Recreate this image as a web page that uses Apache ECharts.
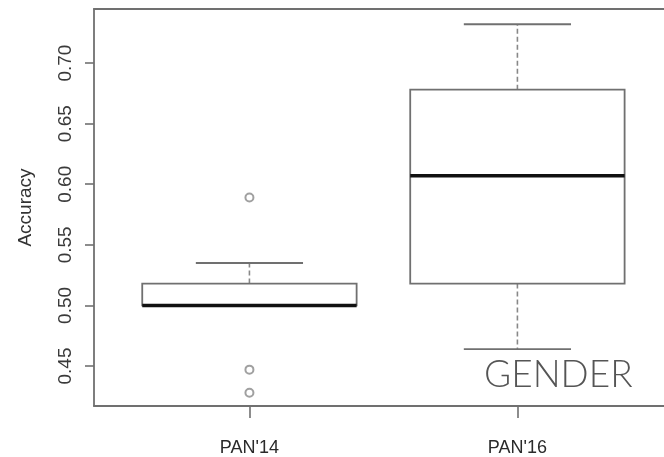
<!DOCTYPE html>
<html>
<head>
<meta charset="utf-8">
<script src="https://cdn.jsdelivr.net/npm/echarts@6/dist/echarts.min.js"></script>
<style>
  html, body { margin: 0; padding: 0; background: #fff; }
  #chart { width: 664px; height: 457px; }
</style>
</head>
<body>
<div id="chart"></div>
<script>
// ---- data ----
var categories = ["PAN'14", "PAN'16"];
var categoryPositions = [1, 2];
// [lower whisker, Q1, median, Q3, upper whisker]
var boxPAN14 = [0.500, 0.500, 0.500, 0.518, 0.535];
var boxPAN16 = [0.464, 0.518, 0.607, 0.678, 0.732];
var outliersPAN14 = [0.589, 0.447, 0.428];
var outliersPAN16 = [];
var yTickValues = [0.45, 0.50, 0.55, 0.60, 0.65, 0.70];
var annotationText = 'GENDER';

var boxes = [boxPAN14, boxPAN16];
var outlierSets = [outliersPAN14, outliersPAN16];

var boxData = boxes.map(function (b, i) {
  return [categoryPositions[i]].concat(b);
});
var outlierData = [];
outlierSets.forEach(function (set, i) {
  set.forEach(function (v) { outlierData.push([categoryPositions[i], v]); });
});

var lineGray = '#707070';
var BOX_WIDTH = 0.8;

function renderBox(params, api) {
  var x = api.value(0);
  var low = api.value(1), q1 = api.value(2), med = api.value(3), q3 = api.value(4), high = api.value(5);
  var w = api.size([BOX_WIDTH, 0])[0];
  var c = api.coord([x, med]);
  var pLow = api.coord([x, low]);
  var pQ1 = api.coord([x, q1]);
  var pQ3 = api.coord([x, q3]);
  var pHigh = api.coord([x, high]);
  var cx = c[0];
  var children = [];
  var dashStyle = { stroke: '#888', lineWidth: 1.6, lineDash: [5, 3] };
  var solid = { stroke: lineGray, lineWidth: 1.8 };
  if (high > q3) {
    children.push({ type: 'line', shape: { x1: cx, y1: pQ3[1], x2: cx, y2: pHigh[1] }, style: dashStyle });
  }
  children.push({ type: 'line', shape: { x1: cx - w / 4, y1: pHigh[1], x2: cx + w / 4, y2: pHigh[1] }, style: solid });
  if (low < q1) {
    children.push({ type: 'line', shape: { x1: cx, y1: pQ1[1], x2: cx, y2: pLow[1] }, style: dashStyle });
    children.push({ type: 'line', shape: { x1: cx - w / 4, y1: pLow[1], x2: cx + w / 4, y2: pLow[1] }, style: solid });
  }
  children.push({
    type: 'rect',
    shape: { x: cx - w / 2, y: pQ3[1], width: w, height: pQ1[1] - pQ3[1] },
    style: { fill: '#fff', stroke: lineGray, lineWidth: 1.8 }
  });
  children.push({ type: 'line', shape: { x1: cx - w / 2, y1: c[1], x2: cx + w / 2, y2: c[1] }, style: { stroke: '#111', lineWidth: 3.5 } });
  return { type: 'group', children: children };
}

var chart = echarts.init(document.getElementById('chart'), null, { renderer: 'canvas' });
var font = '"Liberation Sans", Arial, Helvetica, sans-serif';
var frameLine = { show: true, onZero: false, lineStyle: { color: '#707070', width: 1.8 } };

chart.setOption({
  animation: false,
  backgroundColor: '#ffffff',
  grid: { left: 94, top: 9, right: 0, bottom: 51 },
  xAxis: [{
    type: 'value',
    min: 0.42, max: 2.547,
    position: 'bottom',
    splitLine: { show: false },
    axisLine: frameLine,
    axisTick: { show: true, length: 12, customValues: categoryPositions, lineStyle: { color: '#707070', width: 1.6 } },
    axisLabel: {
      customValues: categoryPositions,
      margin: 33,
      fontFamily: font, fontSize: 18, color: '#2a2a2a',
      formatter: function (v) {
        var i = categoryPositions.indexOf(Math.round(v));
        return i >= 0 ? categories[i] : '';
      }
    }
  }, {
    type: 'value',
    min: 0.42, max: 2.547,
    position: 'top',
    splitLine: { show: false },
    axisLine: frameLine,
    axisTick: { show: false },
    axisLabel: { show: false }
  }],
  yAxis: {
    type: 'value',
    min: 0.417, max: 0.7446,
    name: 'Accuracy',
    nameLocation: 'middle',
    nameRotate: 90,
    nameGap: 59,
    nameTextStyle: { fontFamily: font, fontSize: 19, color: '#333' },
    splitLine: { show: false },
    axisLine: frameLine,
    axisTick: { show: true, length: 9, customValues: yTickValues, lineStyle: { color: '#707070', width: 1.6 } },
    axisLabel: {
      customValues: yTickValues,
      rotate: 90,
      margin: 19,
      fontFamily: font, fontSize: 19, color: '#3a3a3a',
      formatter: function (v) { return v.toFixed(2); }
    }
  },
  series: [
    {
      type: 'custom',
      renderItem: renderBox,
      data: boxData,
      encode: { x: 0, y: [1, 2, 3, 4, 5] },
      z: 2
    },
    {
      type: 'scatter',
      data: outlierData,
      symbol: 'emptyCircle',
      symbolSize: 8,
      itemStyle: { color: '#888', borderColor: '#888', borderWidth: 1.8 },
      z: 3
    }
  ],
  graphic: [{
    type: 'text',
    x: 484, y: 375,
    style: {
      text: annotationText,
      fontFamily: 'Lato, "Open Sans", sans-serif',
      fontWeight: 300,
      fontSize: 37,
      fill: '#555',
      verticalAlign: 'middle',
      align: 'left'
    },
    z: 10
  }]
});
</script>
</body>
</html>
